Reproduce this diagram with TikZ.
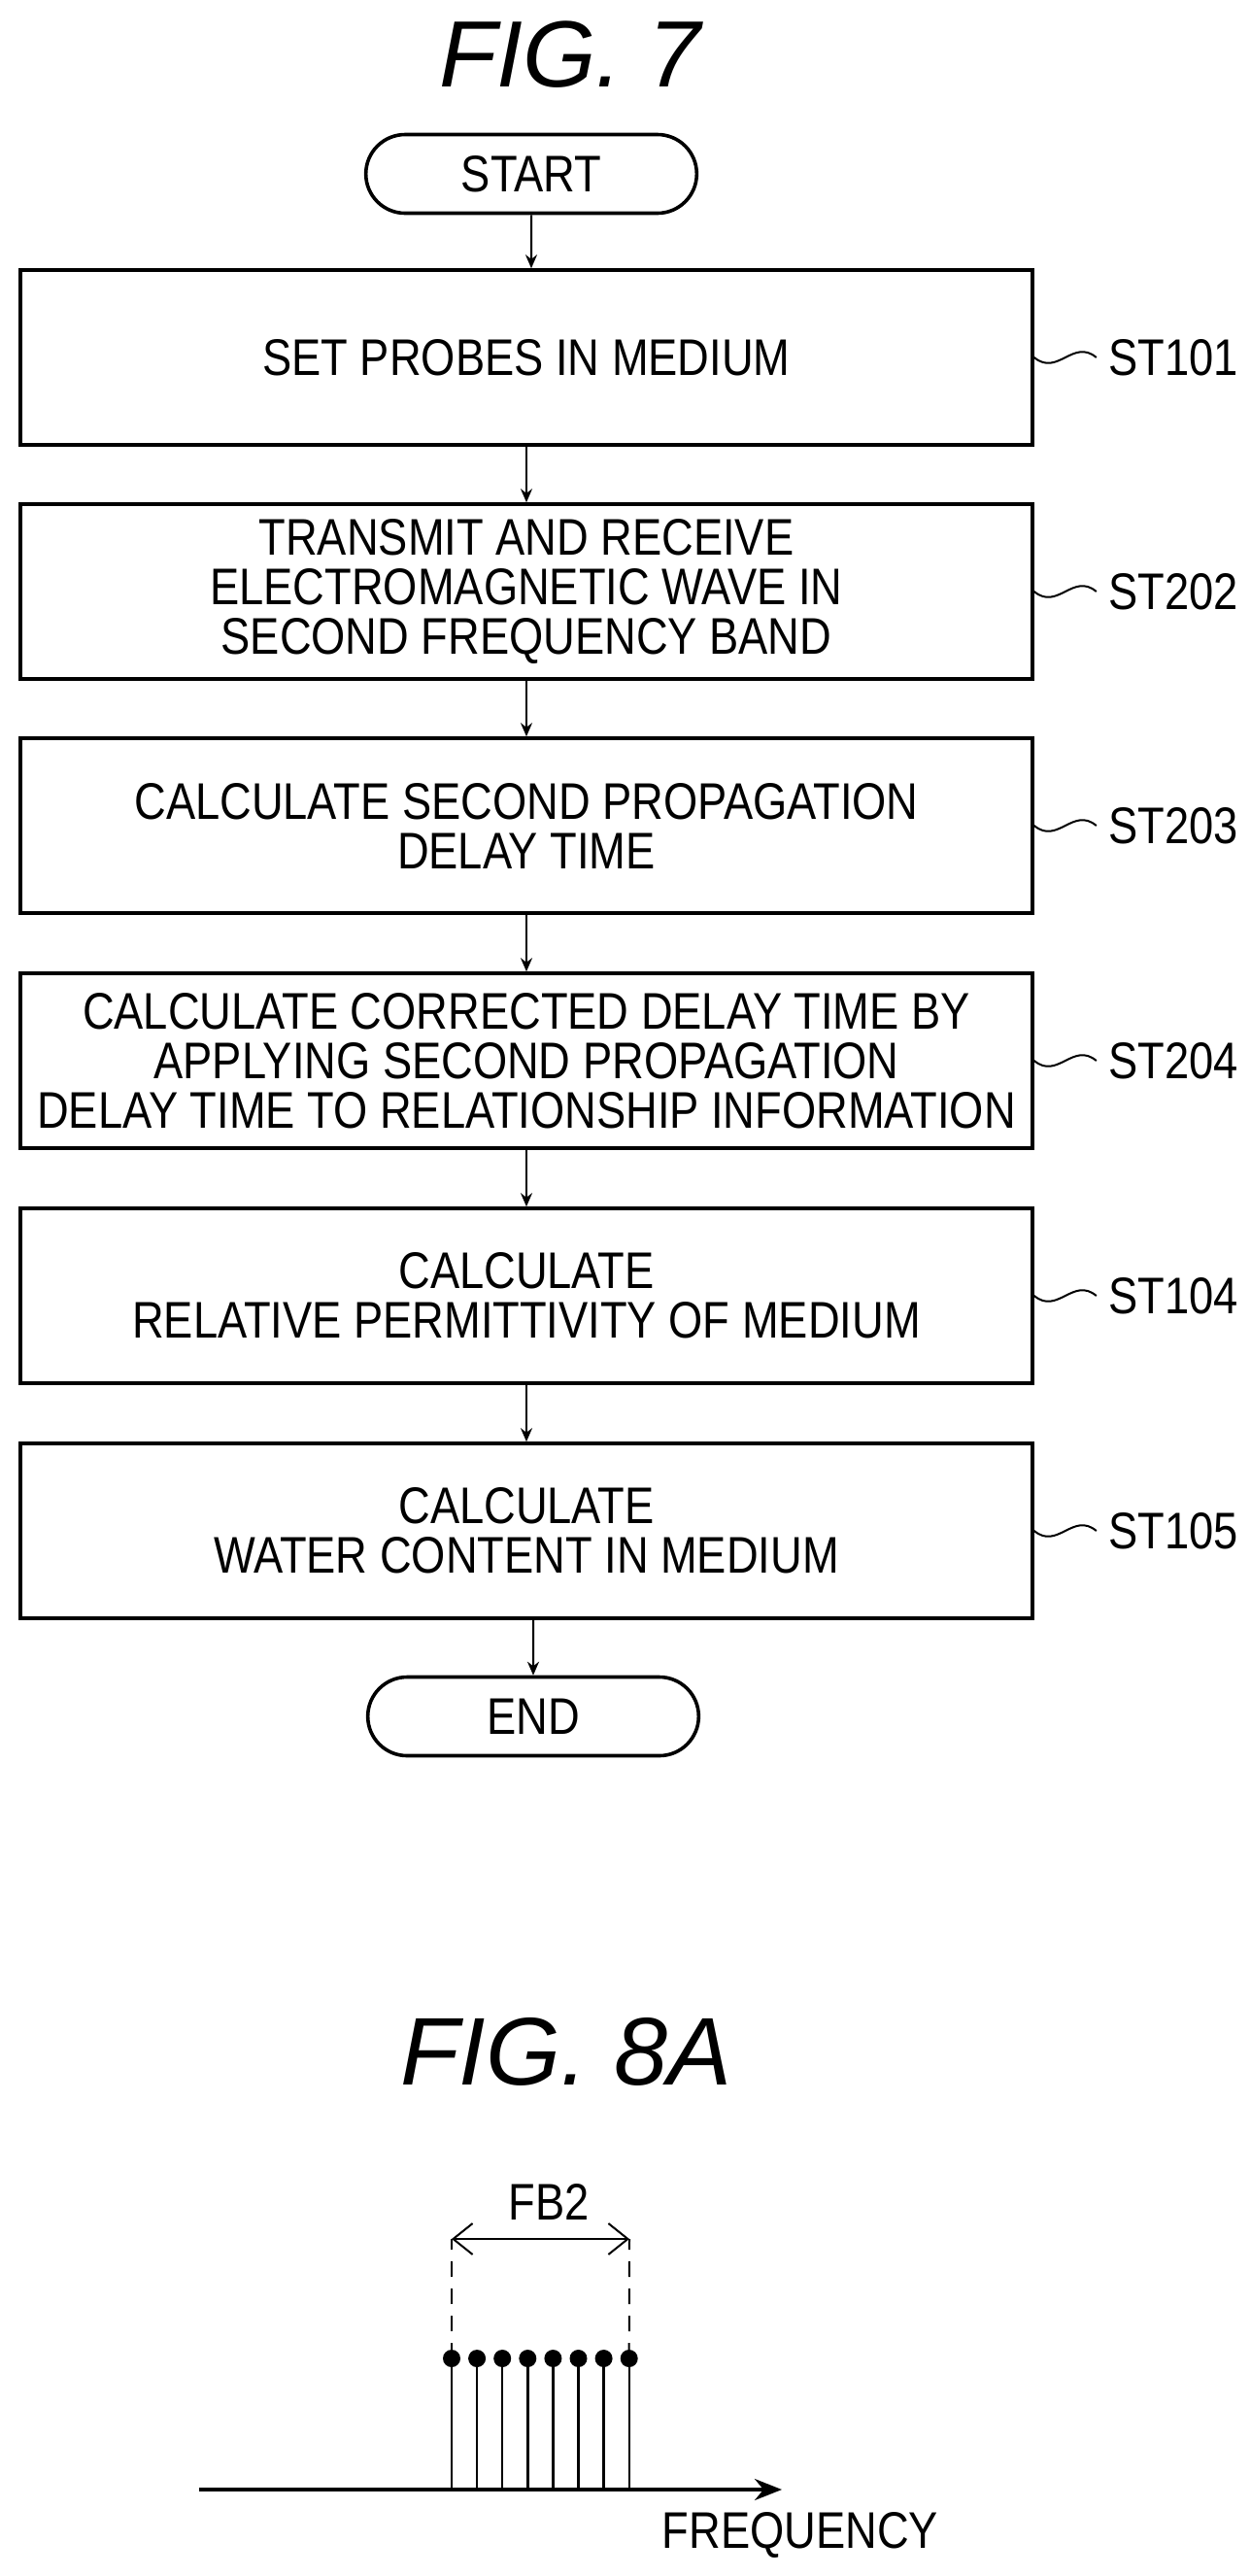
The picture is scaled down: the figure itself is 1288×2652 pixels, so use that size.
\documentclass[tikz,border=0pt]{standalone}
\usepackage{fontspec}
\setmainfont{Liberation Sans}[FakeStretch=0.854]
\newfontfamily\titlefont{Liberation Sans}
\usetikzlibrary{arrows.meta,shapes.misc}
\begin{document}
\begin{tikzpicture}[x=0.5pt,y=-0.5pt,
  txt/.style={font=\fontsize{26.5}{25.5}\selectfont},
  box/.style={txt,draw,line width=1.8pt,minimum width=521pt,minimum height=90pt,align=center,inner sep=0pt},
  term/.style={txt,draw,line width=1.8pt,rounded rectangle,minimum width=177pt,minimum height=40.5pt},
  arr/.style={-{Stealth[length=7pt,width=6pt]},line width=1pt},
  lab/.style={txt,anchor=west,inner sep=0pt},
  tl/.style={line width=1pt},
  ttl/.style={font=\titlefont\itshape\fontsize{48.5}{52}\selectfont}]
\useasboundingbox (0,0) rectangle (1288,2652);
\node[ttl] (f7) at (587,56) {FIG. 7};
\node[term] (start) at (547,179) {START};
\node[box] (b1) at (542,368) {SET PROBES IN MEDIUM};
\node[box] (b2) at (542,609) {TRANSMIT AND RECEIVE\\ELECTROMAGNETIC WAVE IN\\SECOND FREQUENCY BAND};
\node[box] (b3) at (542,850) {CALCULATE SECOND PROPAGATION\\DELAY TIME};
\node[box] (b4) at (542,1092) {CALCULATE CORRECTED DELAY TIME BY\\APPLYING SECOND PROPAGATION\\DELAY TIME TO RELATIONSHIP INFORMATION};
\node[box] (b5) at (542,1334) {CALCULATE\\RELATIVE PERMITTIVITY OF MEDIUM};
\node[box] (b6) at (542,1576) {CALCULATE\\WATER CONTENT IN MEDIUM};
\node[term] (end) at (549,1767) {END};
\draw[arr] (start) -- (start|-b1.north);
\draw[arr] (b1) -- (b2);
\draw[arr] (b2) -- (b3);
\draw[arr] (b3) -- (b4);
\draw[arr] (b4) -- (b5);
\draw[arr] (b5) -- (b6);
\draw[arr] (b6.south-|end) -- (end);
\foreach \b/\t in {b1/ST101,b2/ST202,b3/ST203,b4/ST204,b5/ST104,b6/ST105}{
  \node[lab] (l\b) at ([xshift=38pt]\b.east) {\t};
  \draw[tl] (\b.east) .. controls +(12pt,-10pt) and +(-12pt,10pt) .. ([xshift=-6pt]l\b.west);
}
\node[ttl,font=\titlefont\itshape\fontsize{49.5}{52}\selectfont] (f8) at (583,2112) {FIG. 8A};
\coordinate (a0) at (205,2563);
\coordinate (a1) at (805,2563);
\draw[line width=1.8pt,-{Stealth[length=14pt,width=11pt]}] (a0) -- (a1);
\foreach \i in {0,...,7}{
  \coordinate (s\i) at (465+\i*26.1,2563);
  \coordinate (t\i) at (465+\i*26.1,2428);
  \draw[line width=1.2pt] (s\i) -- (t\i);
  \fill (t\i) circle (4.5pt);
}
\coordinate (d0) at (465,2305);
\coordinate (d1) at (648,2305);
\draw[line width=1pt,dash pattern=on 8pt off 6pt] (t0) -- (d0);
\draw[line width=1pt,dash pattern=on 8pt off 6pt] (t7) -- (d1);
\draw[line width=1pt,{Straight Barb[length=10pt,width=16pt]}-{Straight Barb[length=10pt,width=16pt]}] (d0) -- (d1);
\node[txt] (fb) at (565,2267) {FB2};
\node[txt] (fq) at (824,2610) {FREQUENCY};
\end{tikzpicture}
\end{document}
